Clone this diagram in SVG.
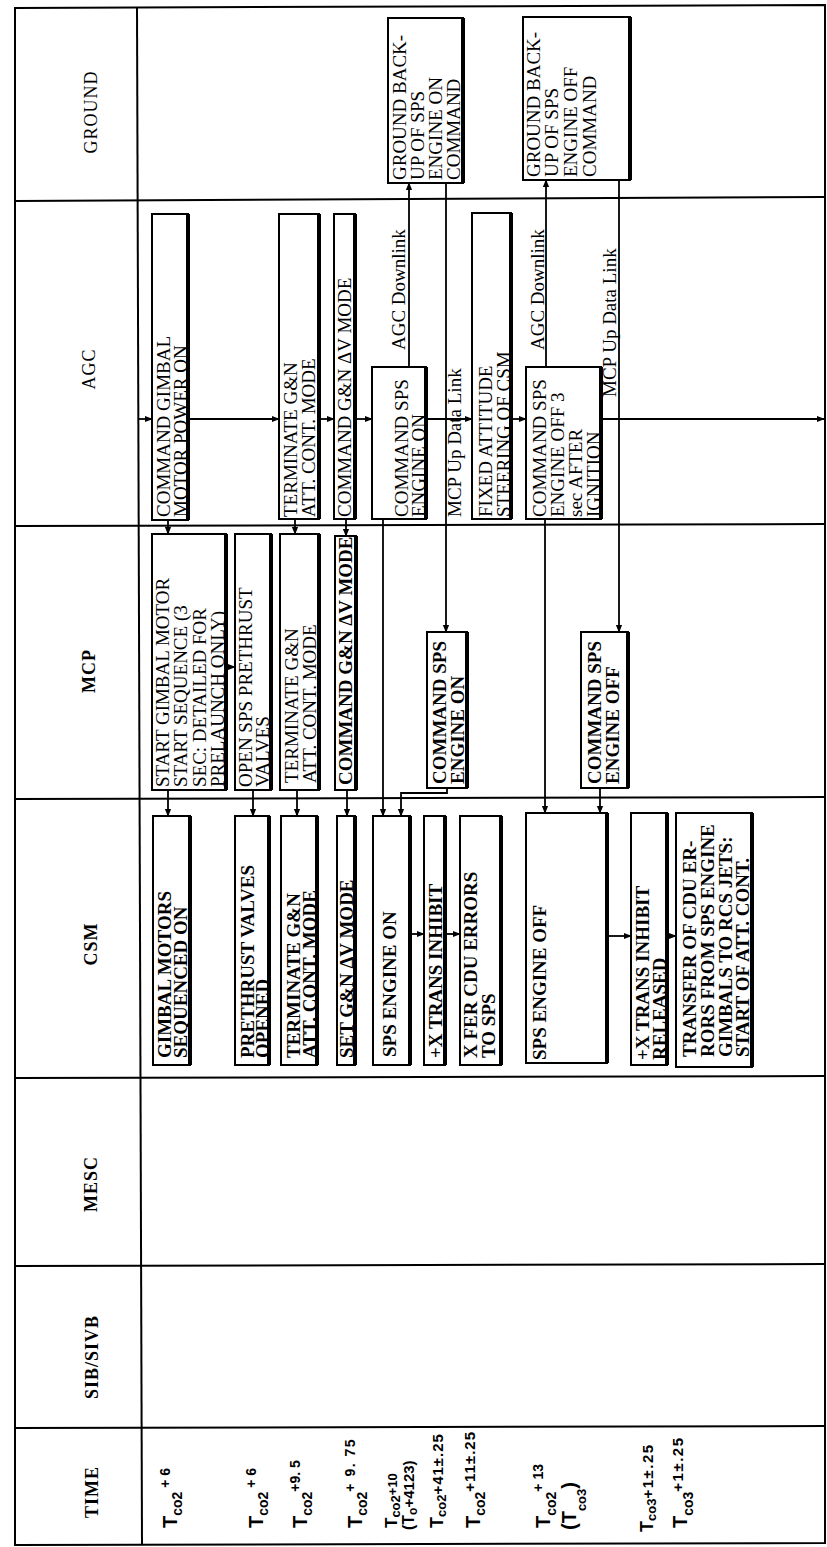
<svg xmlns="http://www.w3.org/2000/svg" width="827" height="1547" viewBox="0 0 827 1547">
<defs>
<style>
.fr{stroke:#000;stroke-width:2;fill:none}
.bx{fill:#fff;stroke:#000;stroke-width:2}
.sh{stroke:#000;stroke-width:4}
.t{font-family:"Liberation Serif","Times New Roman",serif;font-size:19px;fill:#000}
.b{font-weight:bold}
.hd{font-family:"Liberation Serif","Times New Roman",serif;font-size:18px;letter-spacing:1px;text-anchor:middle;fill:#000}
.c{stroke:#000;stroke-width:1.8;fill:none}
.a{marker-end:url(#ah)}
.tm{font-family:"Liberation Sans",Arial,sans-serif;font-weight:bold;fill:#000}
</style>
<marker id="ah" viewBox="0 0 10 10" refX="9" refY="5" markerWidth="8" markerHeight="8" markerUnits="userSpaceOnUse" orient="auto"><path d="M0,1 L10,5 L0,9 z" fill="#000"/></marker>
</defs>
<rect width="827" height="1547" fill="#fff"/>

<g id="frame" class="fr">
<path d="M15,8 L825,5 L825,1543 L15,1545 Z"/>
<path d="M137,8 L142,1545"/>
<path d="M15,201 L825,197"/>
<path d="M15,526 L825,524"/>
<path d="M15,799 L825,797"/>
<path d="M15,1078 L825,1076"/>
<path d="M15,1266 L825,1264"/>
<path d="M15,1428 L825,1426"/>
</g>

<g id="headers">
<text class="hd" transform="translate(97,112) rotate(-90)">GROUND</text>
<text class="hd" transform="translate(95,369) rotate(-90)">AGC</text>
<text class="hd b" transform="translate(95,671) rotate(-90)">MCP</text>
<text class="hd b" transform="translate(97,944) rotate(-90)">CSM</text>
<text class="hd b" transform="translate(97,1184) rotate(-90)">MESC</text>
<text class="hd b" transform="translate(98,1357) rotate(-90)">SIB/SIVB</text>
<text class="hd b" transform="translate(98,1492) rotate(-90)">TIME</text>
</g>

<g id="connectors">
<path class="c a" d="M139,419 H152"/>
<path class="c a" d="M190,419 H279"/>
<path class="c a" d="M321,419 H334"/>
<path class="c a" d="M357,419 H372"/>
<path class="c a" d="M428,419 H472"/>
<path class="c a" d="M513,419 H526"/>
<path class="c a" d="M603,419 H824"/>
<path class="c a" d="M168,520 V534"/>
<path class="c a" d="M295,519 V534"/>
<path class="c a" d="M346,519 V536"/>
<path class="c a" d="M228,667 H235"/>
<path class="c a" d="M168,790 V816"/>
<path class="c a" d="M253,790 V816"/>
<path class="c a" d="M297,790 V816"/>
<path class="c a" d="M347,790 V816"/>
<path class="c a" d="M383,519 V816"/>
<path class="c a" d="M447,788 V793 H401 V816"/>
<path class="c a" d="M545,519 V813"/>
<path class="c a" d="M600,788 V813"/>
<path class="c a" d="M409,367 V183"/>
<path class="c a" d="M446,183 V632"/>
<path class="c a" d="M546,367 V180"/>
<path class="c a" d="M619,180 V632"/>
<path class="c a" d="M412,934 H424"/>
<path class="c a" d="M447,934 H460"/>
<path class="c a" d="M609,936 H631"/>
<path class="c a" d="M669,936 H676"/>
<text class="t" transform="translate(405,350) rotate(-90)">AGC Downlink</text>
<text class="t" transform="translate(461,517) rotate(-90)">MCP Up Data Link</text>
<text class="t" transform="translate(544,350) rotate(-90)">AGC Downlink</text>
<text class="t" transform="translate(616,397) rotate(-90)">MCP Up Data Link</text>
</g>

<g id="g1"><rect class="bx" x="388" y="18" width="75" height="165"/><line class="sh" x1="463" y1="18" x2="463" y2="183"/>
<text class="t" transform="translate(406,180) rotate(-90)"><tspan x="0" y="0">GROUND BACK-</tspan><tspan x="0" y="18">UP OF SPS</tspan><tspan x="0" y="36">ENGINE ON</tspan><tspan x="0" y="54">COMMAND</tspan></text></g>
<g id="g2"><rect class="bx" x="523" y="17" width="107" height="163"/><line class="sh" x1="630" y1="17" x2="630" y2="180"/>
<text class="t" transform="translate(540,177) rotate(-90)"><tspan x="0" y="0">GROUND BACK-</tspan><tspan x="0" y="18">UP OF SPS</tspan><tspan x="0" y="37">ENGINE OFF</tspan><tspan x="0" y="56">COMMAND</tspan></text></g>

<g id="a1"><rect class="bx" x="152" y="214" width="36" height="306"/><line class="sh" x1="188" y1="214" x2="188" y2="520"/>
<text class="t" transform="translate(170,517) rotate(-90)"><tspan x="0" y="0">COMMAND GIMBAL</tspan><tspan x="0" y="16.5">MOTOR POWER ON</tspan></text></g>
<g id="a2"><rect class="bx" x="279" y="214" width="40" height="305"/><line class="sh" x1="319" y1="214" x2="319" y2="519"/>
<text class="t" transform="translate(296.5,517) rotate(-90)"><tspan x="0" y="0">TERMINATE G&amp;N</tspan><tspan x="0" y="18.5">ATT. CONT. MODE</tspan></text></g>
<g id="a3"><rect class="bx" x="334" y="214" width="21" height="305"/><line class="sh" x1="355" y1="214" x2="355" y2="519"/>
<text class="t" transform="translate(351,517) rotate(-90)">COMMAND G&amp;N ΔV MODE</text></g>
<g id="a4"><rect class="bx" x="372" y="367" width="54" height="152"/><line class="sh" x1="426" y1="367" x2="426" y2="519"/>
<text class="t" transform="translate(408,517) rotate(-90)"><tspan x="0" y="0">COMMAND SPS</tspan><tspan x="0" y="16.5">ENGINE ON</tspan></text></g>
<g id="a5"><rect class="bx" x="472" y="213" width="39" height="306"/><line class="sh" x1="511" y1="213" x2="511" y2="519"/>
<text class="t" transform="translate(492,517) rotate(-90)"><tspan x="0" y="0">FIXED ATTITUDE</tspan><tspan x="0" y="17.5">STEERING OF CSM</tspan></text></g>
<g id="a6"><rect class="bx" x="526" y="367" width="75" height="152"/><line class="sh" x1="601" y1="367" x2="601" y2="519"/>
<text class="t" transform="translate(546,517) rotate(-90)"><tspan x="0" y="0">COMMAND SPS</tspan><tspan x="0" y="18">ENGINE OFF 3</tspan><tspan x="0" y="36">sec AFTER</tspan><tspan x="0" y="53.5">IGNITION</tspan></text></g>

<g id="m1"><rect class="bx" x="152" y="534" width="74" height="256"/><line class="sh" x1="226" y1="534" x2="226" y2="790"/>
<text class="t" transform="translate(169,787) rotate(-90)"><tspan x="0" y="0">START GIMBAL MOTOR</tspan><tspan x="0" y="18">START SEQUENCE (3</tspan><tspan x="0" y="36.5">SEC: DETAILED FOR</tspan><tspan x="0" y="54.5">PRELAUNCH ONLY)</tspan></text></g>
<g id="m2"><rect class="bx" x="235" y="534" width="36" height="256"/><line class="sh" x1="271" y1="534" x2="271" y2="790"/>
<text class="t" transform="translate(252,787) rotate(-90)"><tspan x="0" y="0">OPEN SPS PRETHRUST</tspan><tspan x="0" y="17">VALVES</tspan></text></g>
<g id="m3"><rect class="bx" x="280" y="534" width="39" height="256"/><line class="sh" x1="319" y1="534" x2="319" y2="790"/>
<text class="t" transform="translate(297.5,783) rotate(-90)"><tspan x="0" y="0">TERMINATE G&amp;N</tspan><tspan x="0" y="18.5">ATT. CONT. MODE</tspan></text></g>
<g id="m4"><rect class="bx" x="335" y="536" width="21" height="254"/><line class="sh" x1="356" y1="536" x2="356" y2="790"/>
<text class="t b" transform="translate(352,785) rotate(-90)">COMMAND G&amp;N ΔV MODE</text></g>
<g id="m5"><rect class="bx" x="427" y="632" width="40" height="156"/><line class="sh" x1="467" y1="632" x2="467" y2="788"/>
<text class="t b" transform="translate(446,784) rotate(-90)"><tspan x="0" y="0">COMMAND SPS</tspan><tspan x="0" y="17.5">ENGINE ON</tspan></text></g>
<g id="m6"><rect class="bx" x="581" y="632" width="47" height="156"/><line class="sh" x1="628" y1="632" x2="628" y2="788"/>
<text class="t b" transform="translate(601,784) rotate(-90)"><tspan x="0" y="0">COMMAND SPS</tspan><tspan x="0" y="18">ENGINE OFF</tspan></text></g>

<g id="c1"><rect class="bx" x="153" y="816" width="37" height="249"/><line class="sh" x1="190" y1="816" x2="190" y2="1065"/>
<text class="t b" transform="translate(170.5,1058) rotate(-90)"><tspan x="0" y="0">GIMBAL MOTORS</tspan><tspan x="0" y="16.5">SEQUENCED ON</tspan></text></g>
<g id="c2"><rect class="bx" x="235" y="816" width="34" height="249"/><line class="sh" x1="269" y1="816" x2="269" y2="1065"/>
<text class="t b" transform="translate(253.5,1058) rotate(-90)"><tspan x="0" y="0">PRETHRUST VALVES</tspan><tspan x="0" y="15.5">OPENED</tspan></text></g>
<g id="c3"><rect class="bx" x="281" y="816" width="36" height="249"/><line class="sh" x1="317" y1="816" x2="317" y2="1065"/>
<text class="t b" transform="translate(299.5,1058) rotate(-90)"><tspan x="0" y="0">TERMINATE G&amp;N</tspan><tspan x="0" y="16.5">ATT. CONT. MODE</tspan></text></g>
<g id="c4"><rect class="bx" x="337" y="816" width="18" height="249"/><line class="sh" x1="355" y1="816" x2="355" y2="1065"/>
<text class="t b" transform="translate(352.5,1058) rotate(-90)">SET G&amp;N ΔV MODE</text></g>
<g id="c5"><rect class="bx" x="373" y="816" width="37" height="249"/><line class="sh" x1="410" y1="816" x2="410" y2="1065"/>
<text class="t b" transform="translate(396,1057) rotate(-90)">SPS ENGINE ON</text></g>
<g id="c6"><rect class="bx" x="424" y="816" width="21" height="249"/><line class="sh" x1="445" y1="816" x2="445" y2="1065"/>
<text class="t b" transform="translate(442,1058) rotate(-90)">+X TRANS INHIBIT</text></g>
<g id="c7"><rect class="bx" x="460" y="816" width="41" height="249"/><line class="sh" x1="501" y1="816" x2="501" y2="1065"/>
<text class="t b" transform="translate(477,1058) rotate(-90)"><tspan x="0" y="0">X FER CDU ERRORS</tspan><tspan x="0" y="18">TO SPS</tspan></text></g>
<g id="c8"><rect class="bx" x="526" y="813" width="81" height="250"/><line class="sh" x1="607" y1="813" x2="607" y2="1063"/>
<text class="t b" transform="translate(546,1060) rotate(-90)">SPS ENGINE OFF</text></g>
<g id="c9"><rect class="bx" x="631" y="813" width="36" height="252"/><line class="sh" x1="667" y1="813" x2="667" y2="1065"/>
<text class="t b" transform="translate(649,1060) rotate(-90)"><tspan x="0" y="0">+X TRANS INHIBIT</tspan><tspan x="0" y="16.5">RELEASED</tspan></text></g>
<g id="c10"><rect class="bx" x="676" y="813" width="76" height="254"/><line class="sh" x1="752" y1="813" x2="752" y2="1067"/>
<text class="t b" transform="translate(695.5,1057) rotate(-90)"><tspan x="0" y="0">TRANSFER OF CDU ER-</tspan><tspan x="0" y="18">RORS FROM SPS ENGINE</tspan><tspan x="0" y="36">GIMBALS TO RCS JETS:</tspan><tspan x="0" y="53.5">START OF ATT. CONT.</tspan></text></g>

<g id="time">
<text class="tm" transform="translate(177,1528) rotate(-90)"><tspan font-size="20">T</tspan><tspan font-size="14" dy="5">co2</tspan><tspan font-size="14" dy="-12"> + 6</tspan></text>
<text class="tm" transform="translate(263,1528) rotate(-90)"><tspan font-size="20">T</tspan><tspan font-size="14" dy="5">co2</tspan><tspan font-size="14" dy="-12"> + 6</tspan></text>
<text class="tm" transform="translate(307,1528) rotate(-90)"><tspan font-size="20">T</tspan><tspan font-size="14" dy="5">co2</tspan><tspan font-size="14" dy="-12">+9. 5</tspan></text>
<text class="tm" transform="translate(362,1528) rotate(-90)"><tspan font-size="20">T</tspan><tspan font-size="14" dy="5">co2</tspan><tspan font-size="14" dy="-12" letter-spacing="1.5">+ 9. 75</tspan></text>
<text class="tm" transform="translate(397,1528) rotate(-90)"><tspan font-size="17">T</tspan><tspan font-size="13" dy="3">co2</tspan><tspan font-size="13" dy="-3">+10</tspan></text>
<text class="tm" transform="translate(414,1530) rotate(-90)"><tspan font-size="16">(T</tspan><tspan font-size="12" dy="3">o</tspan><tspan font-size="15" dy="-3">+4123)</tspan></text>
<text class="tm" transform="translate(443,1528) rotate(-90)"><tspan font-size="18">T</tspan><tspan font-size="13" dy="3">co2</tspan><tspan font-size="15" dy="-3" letter-spacing="1">+41±.25</tspan></text>
<text class="tm" transform="translate(480,1528) rotate(-90)"><tspan font-size="20">T</tspan><tspan font-size="14" dy="5">co2</tspan><tspan font-size="15" dy="-10" letter-spacing="1">+11±.25</tspan></text>
<text class="tm" transform="translate(550,1528) rotate(-90)"><tspan font-size="20">T</tspan><tspan font-size="14" dy="6">co2</tspan><tspan font-size="14" dy="-13">+ 13</tspan></text>
<text class="tm" transform="translate(576,1530) rotate(-90)"><tspan font-size="20">(T</tspan><tspan font-size="13" dy="10">co3</tspan><tspan font-size="20" dy="-10">)</tspan></text>
<text class="tm" transform="translate(653,1532) rotate(-90)"><tspan font-size="18">T</tspan><tspan font-size="13" dy="3">co3</tspan><tspan font-size="15" dy="-3" letter-spacing="1.5">+1±.25</tspan></text>
<text class="tm" transform="translate(687,1528) rotate(-90)"><tspan font-size="20">T</tspan><tspan font-size="14" dy="6">co3</tspan><tspan font-size="15" dy="-10" letter-spacing="1.5">+1±.25</tspan></text>
</g>
</svg>
